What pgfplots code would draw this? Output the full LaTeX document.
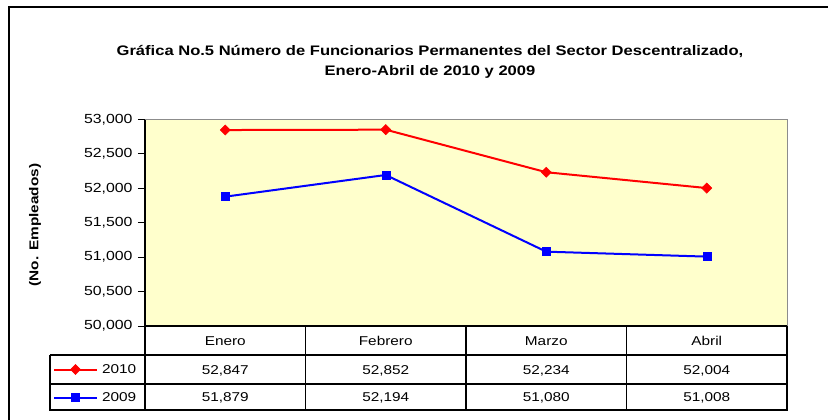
\documentclass[border=0pt]{standalone}
\usepackage{pgfplots}
\pgfplotsset{compat=1.18}
\usepackage{fontspec}
\setmainfont{Liberation Sans}[FakeStretch=1.2]
\definecolor{plotbg}{HTML}{FFFFCC}
\newcommand{\chartfont}{\fontsize{12.8}{14}\selectfont}
\newcommand{\tickfont}{\fontsize{13.2}{15}\selectfont}
\newcommand{\titlefont}{\fontsize{13.8}{16}\selectfont}
\begin{document}
\begin{tikzpicture}[x=1pt,y=1pt]
\useasboundingbox (0,0) rectangle (828,-420);
\fill[white] (0,0) rectangle (828,-420);
% outer frame (cut off on right and bottom)
\draw[line width=2pt] (9,-421) -- (9,-7) -- (829,-7);
% title
\node[font=\bfseries\titlefont, align=center] at (430,-62)
  {Gráfica No.5 Número de Funcionarios Permanentes del Sector Descentralizado,\\[4pt]Enero-Abril de 2010 y 2009};
% y label
\node[font=\bfseries\chartfont, rotate=90] at (35,-225) {(No. Empleados)};

\begin{axis}[
    at={(145pt,-326pt)}, anchor=south west,
    width=642pt, height=206.5pt, scale only axis,
    xmin=0.5, xmax=4.5,
    ymin=50000, ymax=53000,
    xtick=\empty,
    ytick={50000,50500,...,53000},
    ytick pos=left,
    scaled y ticks=false,
    tick align=outside,
    major tick length=7pt,
    ytick style={black, line width=0.9pt},
    yticklabel style={font=\tickfont, xshift=-2pt, /pgf/number format/fixed, /pgf/number format/1000 sep={,}, /pgf/number format/assume math mode=true},
    axis line style={draw=gray!90, line width=1pt},
    axis background/.style={fill=plotbg},
    clip=false,
    legend style={at={(-0.1433,-0.1429)}, anchor=north west, draw=none, fill=none,
        inner sep=0pt, outer sep=0pt, row sep=0pt, column sep=4pt, font=\chartfont,
        nodes={inner sep=0pt, minimum height=28pt}},
    legend cell align=left,
    legend image code/.code={\draw[mark repeat=2,mark phase=2,#1] plot coordinates {(0pt,0pt) (21.5pt,0pt) (43pt,0pt)};},
]
\addplot[red, line width=2pt, mark=square*, mark size=3.6pt,
    mark options={rotate=45, fill=red, draw=red, line width=0.5pt}] coordinates {
    (1,52847) (2,52852) (3,52234) (4,52004)
};
\addlegendentry{2010}
\addplot[blue, line width=2pt, mark=square*, mark size=4pt,
    mark options={fill=blue, draw=blue, line width=0.5pt}] coordinates {
    (1,51879) (2,52194) (3,51080) (4,51008)
};
\addlegendentry{2009}
\end{axis}

% data table
\begin{scope}[line width=1.8pt]
\draw (145,-119.5) -- (145,-410.9);
\draw (145,-326) -- (787,-326);
\draw (50,-355) -- (787,-355);
\draw (50,-384) -- (787,-384);
\draw (49.1,-410) -- (787.9,-410);
\draw (50,-355) -- (50,-410);
\foreach \x in {305.5,466,626.5,787} \draw (\x,-326) -- (\x,-410);
\end{scope}
\begin{scope}[font=\chartfont, every node/.style={text height=9.2pt, text depth=0pt, inner sep=0pt}]
\node at (225.25,-340.5) {Enero};
\node at (385.75,-340.5) {Febrero};
\node at (546.25,-340.5) {Marzo};
\node at (706.75,-340.5) {Abril};
\node at (225.25,-369.5) {52,847};
\node at (385.75,-369.5) {52,852};
\node at (546.25,-369.5) {52,234};
\node at (706.75,-369.5) {52,004};
\node at (225.25,-397) {51,879};
\node at (385.75,-397) {52,194};
\node at (546.25,-397) {51,080};
\node at (706.75,-397) {51,008};
\end{scope}
\end{tikzpicture}
\end{document}
